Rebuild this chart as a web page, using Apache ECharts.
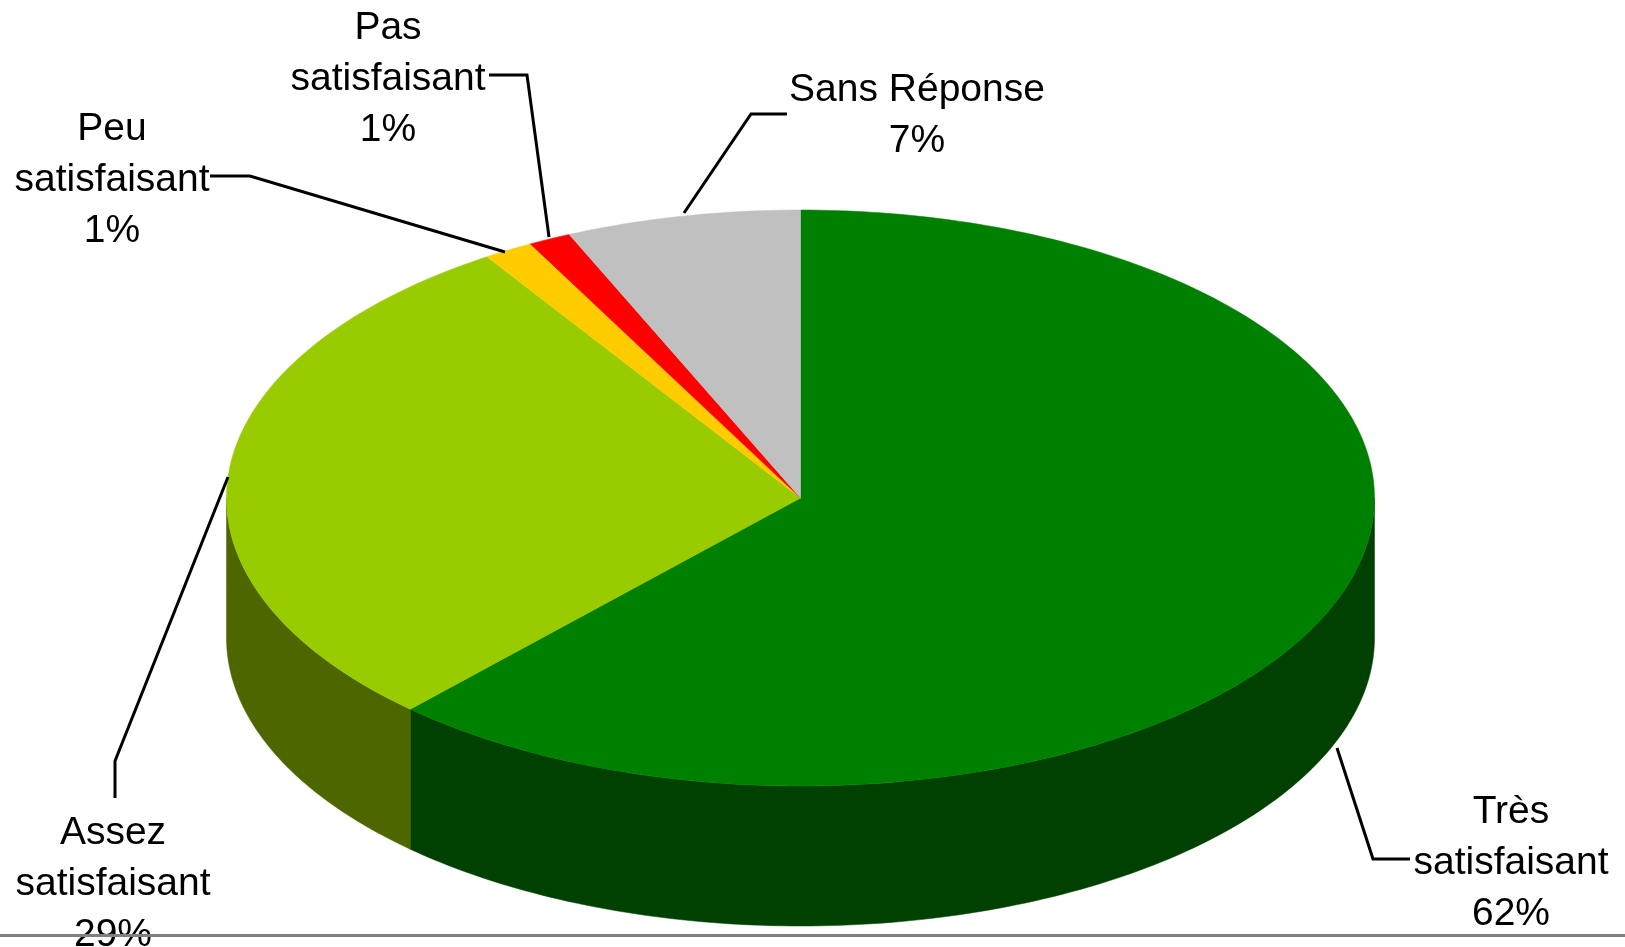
<!DOCTYPE html>
<html>
<head>
<meta charset="utf-8">
<script src="https://cdn.jsdelivr.net/npm/echarts@6/dist/echarts.min.js"></script>
<style>
  html, body { margin: 0; padding: 0; background: #fff; }
  #chart { width: 1625px; height: 947px; }
</style>
</head>
<body>
<div id="chart"></div>
<script>
// order is clockwise from the top of the pie
const categories = ['Très\nsatisfaisant', 'Assez\nsatisfaisant', 'Peu\nsatisfaisant', 'Pas\nsatisfaisant', 'Sans Réponse'];
const shares = [61.9, 28.9, 1.4, 1.2, 6.6];

const topColors = ['#008000', '#99CC00', '#FFCC00', '#FF0000', '#C0C0C0'];
const sideColors = ['#004000', '#4D6600', '#806600', '#800000', '#606060'];

// label centre and leader line for each slice
const labelSpots = [[1511, 863], [113, 884], [112, 180], [388, 79], [917, 116]];
const leaders = [
  [[1337, 748], [1373, 859], [1410, 859]],
  [[228, 477], [115, 761], [115, 798]],
  [[210, 176], [250, 176], [505, 252]],
  [[489, 75], [527, 75], [549, 237]],
  [[787, 114], [751, 114], [684, 213]]
];

const cx = 800.5, cy = 498, rx = 574, ry = 288, depth = 140;
const total = shares.reduce((a, b) => a + b, 0);

function rimPoint(deg, dy) {
  const a = deg * Math.PI / 180;
  return [cx + rx * Math.sin(a), cy - ry * Math.cos(a) + dy];
}

function arc(from, to, dy) {
  const pts = [];
  const n = Math.max(2, Math.ceil(to - from));
  for (let i = 0; i <= n; i++) {
    pts.push(rimPoint(from + (to - from) * i / n, dy));
  }
  return pts;
}

function renderSlice(params, api) {
  const i = params.dataIndex;
  const before = shares.slice(0, i).reduce((a, b) => a + b, 0);
  const start = before / total * 360;
  const end = start + api.value(0) / total * 360;
  const children = [];

  // the wall only shows on the front half of the pie
  const wallFrom = Math.max(start, 90);
  const wallTo = Math.min(end, 270);
  if (wallTo > wallFrom) {
    children.push({
      type: 'polygon',
      shape: { points: arc(wallFrom, wallTo, 0).concat(arc(wallFrom, wallTo, depth).reverse()) },
      style: { fill: sideColors[i], stroke: sideColors[i], lineWidth: 0.5 }
    });
  }

  children.push({
    type: 'polygon',
    z2: 5,
    shape: { points: [[cx, cy]].concat(arc(start, end, 0)) },
    style: { fill: topColors[i], stroke: topColors[i], lineWidth: 0.5 }
  });

  children.push({
    type: 'polyline',
    z2: 6,
    shape: { points: leaders[i] },
    style: { fill: null, stroke: '#000', lineWidth: 3 }
  });

  children.push({
    type: 'text',
    z2: 6,
    style: {
      x: labelSpots[i][0],
      y: labelSpots[i][1],
      text: categories[i] + '\n' + Math.round(api.value(0)) + '%',
      fontFamily: '"Liberation Sans", Arial, sans-serif',
      fontSize: 39,
      lineHeight: 51,
      align: 'center',
      verticalAlign: 'middle',
      fill: '#000'
    }
  });

  return { type: 'group', children: children };
}

const chart = echarts.init(document.getElementById('chart'));
chart.setOption({
  animation: false,
  backgroundColor: '#fff',
  series: [
    {
      type: 'custom',
      coordinateSystem: 'none',
      renderItem: renderSlice,
      data: shares.map(v => [v])
    }
  ],
  graphic: [
    {
      type: 'rect',
      z: 100,
      shape: { x: 0, y: 934, width: 1625, height: 3 },
      style: { fill: '#808080' }
    }
  ]
});
</script>
</body>
</html>
